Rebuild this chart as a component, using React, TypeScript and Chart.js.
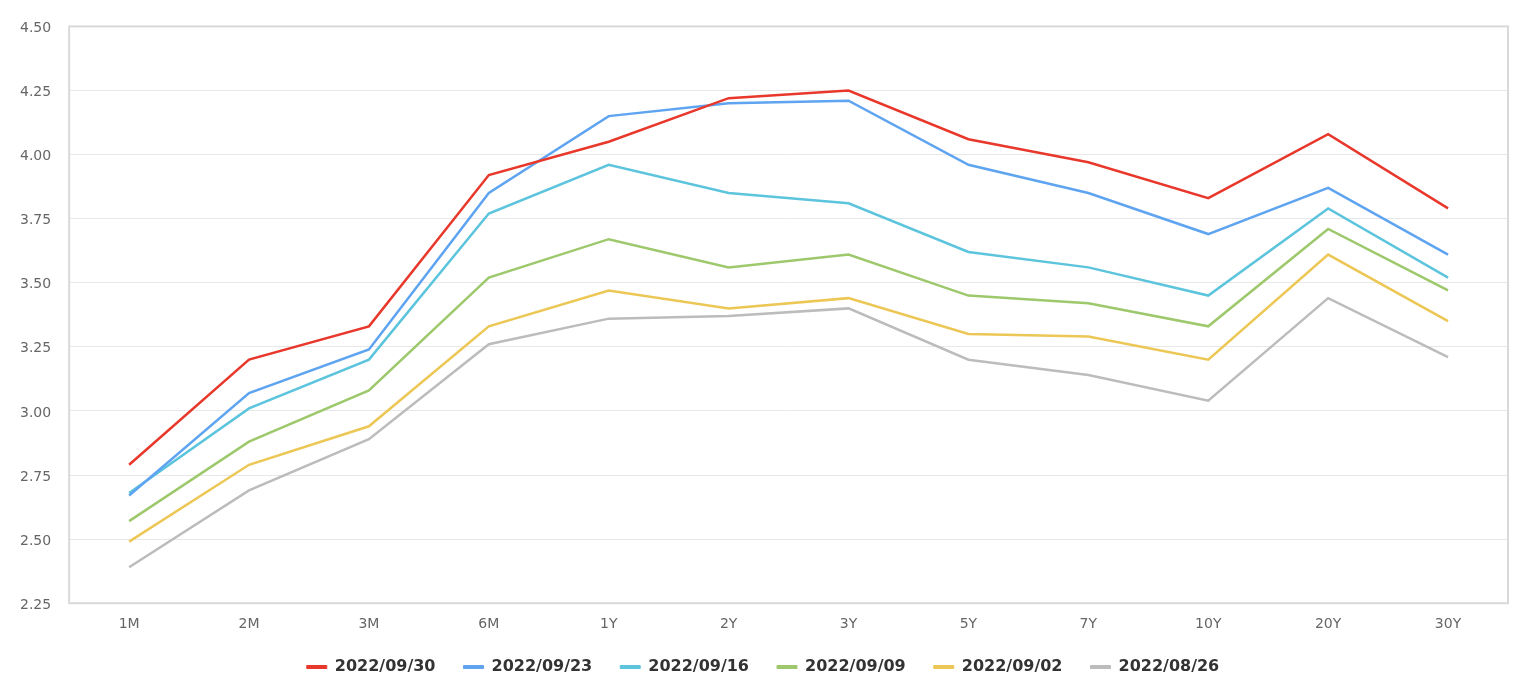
import React, { useEffect, useRef } from "react";
import { Chart, registerables } from "chart.js";

Chart.register(...registerables);

const categories = ["1M", "2M", "3M", "6M", "1Y", "2Y", "3Y", "5Y", "7Y", "10Y", "20Y", "30Y"];
const seriesNames = ["2022/09/30", "2022/09/23", "2022/09/16", "2022/09/09", "2022/09/02", "2022/08/26"];
const s0930 = [2.79, 3.20, 3.33, 3.92, 4.05, 4.22, 4.25, 4.06, 3.97, 3.83, 4.08, 3.79];
const s0923 = [2.67, 3.07, 3.24, 3.85, 4.15, 4.20, 4.21, 3.96, 3.85, 3.69, 3.87, 3.61];
const s0916 = [2.68, 3.01, 3.20, 3.77, 3.96, 3.85, 3.81, 3.62, 3.56, 3.45, 3.79, 3.52];
const s0909 = [2.57, 2.88, 3.08, 3.52, 3.67, 3.56, 3.61, 3.45, 3.42, 3.33, 3.71, 3.47];
const s0902 = [2.49, 2.79, 2.94, 3.33, 3.47, 3.40, 3.44, 3.30, 3.29, 3.20, 3.61, 3.35];
const s0826 = [2.39, 2.69, 2.89, 3.26, 3.36, 3.37, 3.40, 3.20, 3.14, 3.04, 3.44, 3.21];
const seriesValues = [s0930, s0923, s0916, s0909, s0902, s0826];
const colors = ["#e8382b", "#5ea4f0", "#5cc4dc", "#9dc86c", "#ecc755", "#bcbcbc"];

const LEGEND_SHRINK = 15;
const LEGEND_SHIFT_X = 8;

const frame = {
  id: "frame",
  afterInit(chart: any) {
    const lg = chart.legend;
    if (lg) {
      const orig = lg.fit.bind(lg);
      lg.fit = function () {
        orig();
        this.height -= LEGEND_SHRINK;
      };
    }
  },
  afterLayout(chart: any) {
    const lg = chart.legend;
    if (lg) {
      lg.top -= LEGEND_SHRINK;
      lg.left += LEGEND_SHIFT_X;
      lg.right += LEGEND_SHIFT_X;
    }
  },
  afterDraw(chart: any) {
    const { ctx, chartArea: a } = chart;
    ctx.save();
    ctx.strokeStyle = "#d9d9d9";
    ctx.lineWidth = 2;
    ctx.strokeRect(a.left, a.top, a.right - a.left, a.bottom - a.top);
    ctx.restore();
  },
};

export default function App() {
  const ref = useRef<HTMLCanvasElement>(null);
  useEffect(() => {
    document.body.style.margin = "0";
    const chart = new Chart(ref.current!, {
      type: "line",
      data: {
        labels: categories,
        datasets: seriesNames.map((n, i) => ({
          label: n,
          data: seriesValues[i],
          borderColor: colors[i],
          backgroundColor: colors[i],
          borderWidth: 2.5,
          pointRadius: 0,
          tension: 0,
        })),
      },
      options: {
        animation: false,
        responsive: false,
        layout: { padding: { top: 19, right: 16, left: 2, bottom: 3 } },
        plugins: {
          tooltip: { enabled: false },
          legend: {
            position: "bottom",
            labels: {
              boxWidth: 20,
              boxHeight: 3,
              padding: 28,
              color: "#333",
              font: { family: "DejaVu Sans", size: 16, weight: "bold" },
              generateLabels: (chart: any) =>
                Chart.defaults.plugins.legend.labels.generateLabels(chart).map((l: any) => ({ ...l, lineWidth: 1 })),
            },
          },
        },
        scales: {
          x: {
            offset: true,
            grid: { display: false, drawTicks: false },
            border: { display: false },
            ticks: { color: "#666", font: { family: "DejaVu Sans", size: 14 }, padding: 13 },
          },
          y: {
            min: 2.25,
            max: 4.5,
            grid: { color: "#e8e8e8", drawTicks: false },
            border: { display: false },
            ticks: {
              stepSize: 0.25,
              color: "#666",
              font: { family: "DejaVu Sans", size: 14 },
              padding: 18,
              labelOffset: 2,
              callback: (v: any) => Number(v).toFixed(2),
            },
          },
        },
      },
      plugins: [frame],
    });
    return () => chart.destroy();
  }, []);
  return <canvas ref={ref} width={1524} height={688} style={{ display: "block" }} />;
}
